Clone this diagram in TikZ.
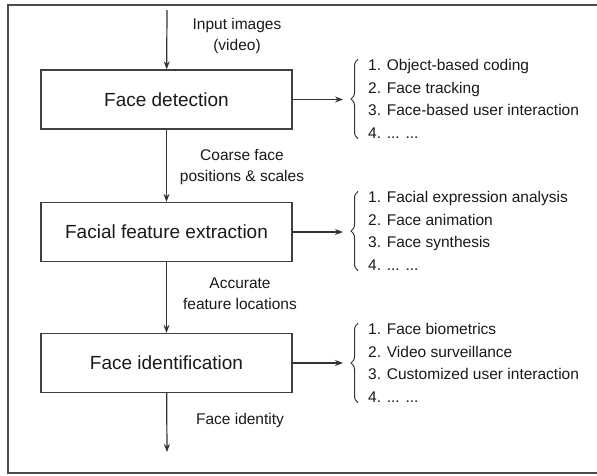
\documentclass[tikz,border=0pt]{standalone}
\usepackage{fontspec}
\setmainfont{Liberation Sans}
\usetikzlibrary{arrows.meta,decorations.pathreplacing}
\begin{document}
\begin{tikzpicture}[x=1pt, y=-1pt, every node/.style={font=\fontsize{15.5}{21}\selectfont, align=center, text=black!90},
  caja/.style={draw=black!75, line width=1.3pt, minimum width=251pt, minimum height=59pt, font=\fontsize{19}{22}\selectfont},
  lista/.style={align=left, anchor=west, inner sep=0pt, font=\fontsize{15.5}{22.5}\selectfont},
  llave/.style={decorate, decoration={brace, amplitude=7pt}, line width=1pt, draw=black!80},
  flecha/.style={-{Stealth[length=8pt, width=6pt]}, line width=1.2pt, draw=black!80}]
\useasboundingbox (0,0) rectangle (597,475);
\draw[line width=1.5pt, black!70] (610,5) -- (8,5) -- (8,473) -- (610,473);
% etapas
\node[caja] (det) at (166.5,99.5) {Face detection};
\node[caja] (ext) at (166.5,232) {Facial feature extraction};
\node[caja] (ide) at (166.5,363) {Face identification};
\coordinate (entrada) at (167,10);
\coordinate (salida) at (167,452);
% etiquetas
\node (tentrada) at (237,36) {Input images\\(video)};
\node (tgruesa) at (242,167) {Coarse face\\positions \& scales};
\node (tprecisa) at (240,294) {Accurate\\feature locations};
\node (tidentidad) at (240,420) {Face identity};
% aplicaciones
\node[lista] (app1) at (368,99) {1. Object-based coding\\2. Face tracking\\3. Face-based user interaction\\4. ... ...};
\node[lista] (app2) at (368,231) {1. Facial expression analysis\\2. Face animation\\3. Face synthesis\\4. ... ...};
\node[lista] (app3) at (368,363) {1. Face biometrics\\2. Video surveillance\\3. Customized user interaction\\4. ... ...};
\foreach \a in {app1,app2,app3}
  \draw[llave] ([xshift=-10pt]\a.south west) -- ([xshift=-10pt]\a.north west);
\draw[flecha] (entrada) -- (det); \draw[flecha] (det) -- (ext); \draw[flecha] (ext) -- (ide); \draw[flecha] (ide) -- (salida);
\draw[flecha, shorten >=25pt] (det) -- (det -| app1.west);
\draw[flecha, shorten >=25pt] (ext) -- (ext -| app2.west);
\draw[flecha, shorten >=25pt] (ide) -- (ide -| app3.west);
\end{tikzpicture}
\end{document}
